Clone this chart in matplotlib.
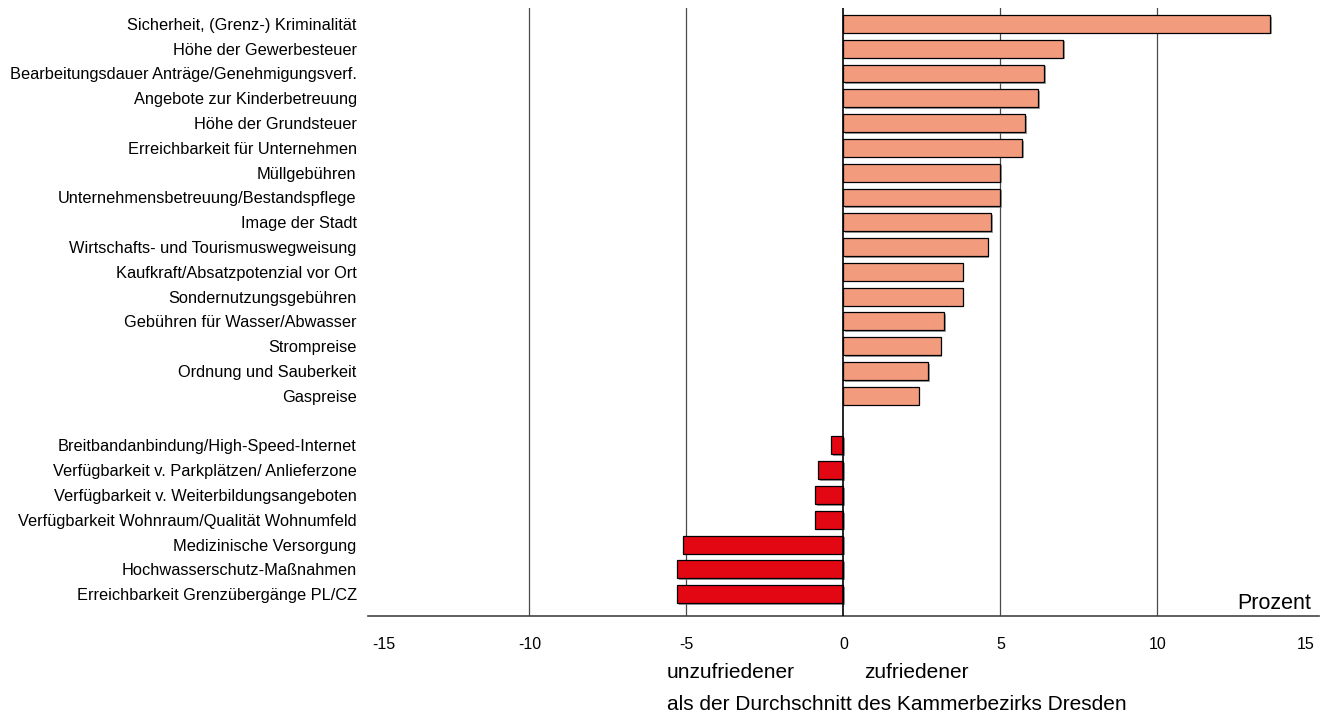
import numpy as np
import matplotlib.pyplot as plt
import matplotlib.patheffects as pe

plt.rcParams['font.family'] = ['Liberation Sans', 'DejaVu Sans']

# positive: zufriedener
pos_labels = ["Sicherheit, (Grenz-) Kriminalität", "Höhe der Gewerbesteuer",
              "Bearbeitungsdauer Anträge/Genehmigungsverf.", "Angebote zur Kinderbetreuung",
              "Höhe der Grundsteuer", "Erreichbarkeit für Unternehmen", "Müllgebühren",
              "Unternehmensbetreuung/Bestandspflege", "Image der Stadt",
              "Wirtschafts- und Tourismuswegweisung", "Kaufkraft/Absatzpotenzial vor Ort",
              "Sondernutzungsgebühren", "Gebühren für Wasser/Abwasser", "Strompreise",
              "Ordnung und Sauberkeit", "Gaspreise"]
pos_values = [13.6, 7.0, 6.4, 6.2, 5.8, 5.7, 5.0, 5.0, 4.7, 4.6, 3.8, 3.8, 3.2, 3.1, 2.7, 2.4]

# negative: unzufriedener
neg_labels = ["Breitbandanbindung/High-Speed-Internet", "Verfügbarkeit v. Parkplätzen/ Anlieferzone",
              "Verfügbarkeit v. Weiterbildungsangeboten", "Verfügbarkeit Wohnraum/Qualität Wohnumfeld",
              "Medizinische Versorgung", "Hochwasserschutz-Maßnahmen",
              "Erreichbarkeit Grenzübergänge PL/CZ"]
neg_values = [-0.4, -0.8, -0.9, -0.9, -5.1, -5.3, -5.3]

xticks = [-15, -10, -5, 0, 5, 10, 15]

pos_y = np.arange(len(pos_values))
neg_y = np.arange(len(neg_values)) + len(pos_values) + 1

fig = plt.figure(figsize=(13.23, 7.16), dpi=100)
ax = fig.add_axes([0.278, 0.14, 0.719, 0.849])

for g in [-10, -5, 5, 10]:
    ax.axvline(g, color='#4a4a4a', lw=0.9, zorder=1)
ax.axvline(0, color='black', lw=1.2, zorder=3)

shadow = [pe.SimplePatchShadow(offset=(1.2, -1.2), shadow_rgbFace='#777777', alpha=0.7), pe.Normal()]
b1 = ax.barh(pos_y, pos_values, height=0.72, color='#F29B7D', edgecolor='black', lw=0.9, zorder=2)
b2 = ax.barh(neg_y, neg_values, height=0.72, color='#E30613', edgecolor='black', lw=0.9, zorder=2)
for b in list(b1) + list(b2):
    b.set_path_effects(shadow)

ax.set_yticks(list(pos_y) + list(neg_y))
ax.set_yticklabels(pos_labels + neg_labels, fontsize=11.8)
ax.set_ylim(23.87, -0.645)
ax.set_xlim(-15.15, 15.15)
ax.set_xticks(xticks)
ax.set_xticklabels([str(t) for t in xticks], fontsize=11.5)
tl = ax.get_xticklabels()
tl[0].set_ha('left')
tl[-1].set_ha('right')
ax.tick_params(axis='x', length=0, pad=15)
ax.tick_params(axis='y', length=0, pad=8)
for s in ['left', 'top', 'right']:
    ax.spines[s].set_visible(False)
ax.spines['bottom'].set_color('#444444')
ax.spines['bottom'].set_linewidth(1.2)

ax.text(0.992, 0.003, "Prozent", transform=ax.transAxes, ha='right', va='bottom', fontsize=15.5)
fig.text(667 / 1323, 1 - 673 / 716, "unzufriedener", ha='left', va='center', fontsize=15)
fig.text(864 / 1323, 1 - 673 / 716, "zufriedener", ha='left', va='center', fontsize=15)
fig.text(667 / 1323, 1 - 705 / 716, "als der Durchschnitt des Kammerbezirks Dresden",
         ha='left', va='center', fontsize=15)

fig.savefig('out.png', dpi=100)
